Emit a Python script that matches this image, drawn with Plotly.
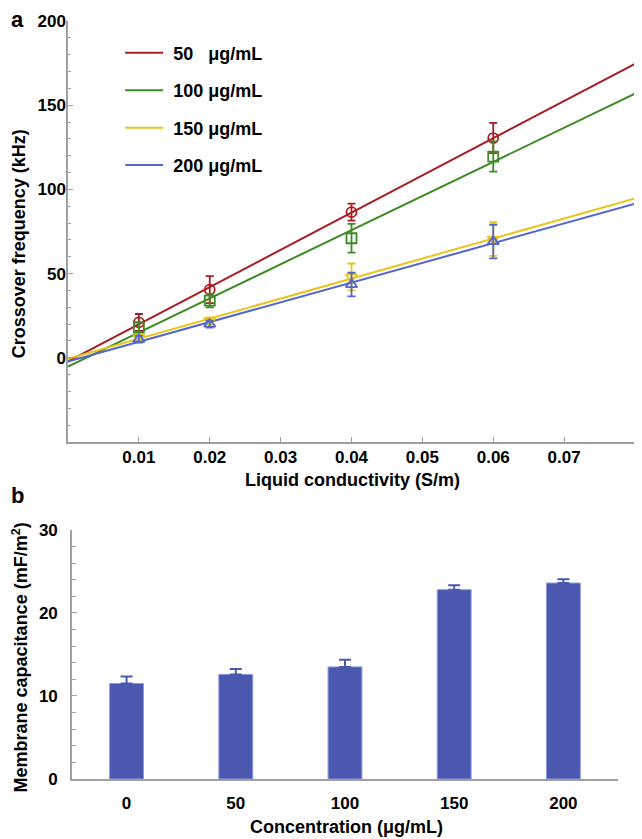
import numpy as np
import plotly.graph_objects as go

# ---- panel a: crossover frequency vs liquid conductivity ----
CONDUCTIVITY = [0.01, 0.02, 0.04, 0.06]
SERIES_NAMES = ["50\u00a0\u00a0 μg/mL", "100 μg/mL", "150 μg/mL", "200 μg/mL"]
FREQ_50 = [21, 40.5, 86.5, 130.5]
FREQ_100 = [18, 34, 71, 119.5]
FREQ_150 = [12, 22, 48, 70.5]
FREQ_200 = [11, 20, 43.5, 69]
ERR_50 = [5, 8, 5, 9]
ERR_100 = [3, 4, 8.5, 9]
ERR_150 = [2, 2, 8, 10]
ERR_200 = [2, 2, 7, 10]

# ---- panel b: membrane capacitance vs concentration ----
CONC_LABELS = ["0", "50", "100", "150", "200"]
CAPACITANCE = [11.5, 12.6, 13.5, 22.8, 23.6]
CAP_ERR = [0.85, 0.65, 0.85, 0.55, 0.45]

COLORS = ["#a61e24", "#3d8a24", "#e8c41c", "#5266cc"]
SYMBOLS = ["circle-open", "square-open", "triangle-down-open", "triangle-up-open"]
BAR_COLOR = "#4a58b0"
AXIS_GRAY = "#a0a0a0"
FONT = "Liberation Sans, Arial, sans-serif"

X_RANGE = [0, 0.08]

fig = go.Figure()

freqs = [FREQ_50, FREQ_100, FREQ_150, FREQ_200]
errs = [ERR_50, ERR_100, ERR_150, ERR_200]

# linear fit lines (legend entries show lines only)
for name, ys, color in zip(SERIES_NAMES, freqs, COLORS):
    slope, icpt = np.polyfit(CONDUCTIVITY, ys, 1)
    xs = np.array(X_RANGE)
    fig.add_trace(go.Scatter(
        x=xs, y=slope * xs + icpt,
        mode="lines",
        name=f"<b>\u00a0{name}</b>",
        legendgroup=name,
        line=dict(color=color, width=2),
        xaxis="x", yaxis="y",
    ))

# data points with error bars
for name, ys, es, color, sym in zip(SERIES_NAMES, freqs, errs, COLORS, SYMBOLS):
    fig.add_trace(go.Scatter(
        x=CONDUCTIVITY, y=ys,
        mode="markers",
        showlegend=False,
        legendgroup=name,
        marker=dict(symbol=sym, size=10, color=color, line=dict(color=color, width=1.8)),
        error_y=dict(type="data", array=es, color=color, thickness=1.8, width=4),
        xaxis="x", yaxis="y",
    ))

# bars
fig.add_trace(go.Bar(
    x=CONC_LABELS, y=CAPACITANCE,
    width=0.31,
    marker=dict(color=BAR_COLOR, line=dict(color="#8c98d8", width=1)),
    error_y=dict(type="data", symmetric=False, array=CAP_ERR,
                 arrayminus=[0] * len(CAP_ERR), color=BAR_COLOR, thickness=2, width=6),
    showlegend=False,
    xaxis="x2", yaxis="y2",
))

tick_font = dict(family=FONT, size=17, color="black")
bold = lambda s: f"<b>{s}</b>"

# the page body adds an 8px margin, so the figure is 8px smaller than the window
fig.update_layout(
    width=634, height=831,
    margin=dict(l=60, r=7, t=4, b=60),
    paper_bgcolor="white",
    plot_bgcolor="white",
    font=dict(family=FONT, size=17, color="black"),
    xaxis=dict(
        domain=[0, 1], anchor="y", range=X_RANGE,
        tickvals=[0.01, 0.02, 0.03, 0.04, 0.05, 0.06, 0.07],
        ticktext=[bold(f"{v:.2f}") for v in [0.01, 0.02, 0.03, 0.04, 0.05, 0.06, 0.07]],
        ticks="inside", ticklen=5, tickcolor=AXIS_GRAY,
        showline=True, linecolor=AXIS_GRAY, linewidth=1.5,
        showgrid=False, zeroline=False, tickfont=tick_font,
        ticklabelstandoff=-1,
    ),
    yaxis=dict(
        domain=[0.4446, 1.0], anchor="x", range=[-50, 200],
        tickvals=[0, 50, 100, 150, 200],
        ticktext=[bold(v) for v in [0, 50, 100, 150, 200]],
        ticks="inside", ticklen=5, tickcolor=AXIS_GRAY,
        minor=dict(dtick=10, ticks="inside", ticklen=3, tickcolor=AXIS_GRAY),
        showline=True, linecolor=AXIS_GRAY, linewidth=1.5,
        showgrid=False, zeroline=False, tickfont=tick_font,
        ticklabelstandoff=-3,
    ),
    xaxis2=dict(
        domain=[0.007, 0.970], anchor="y2", range=[-0.5, 4.5],
        type="category",
        tickvals=CONC_LABELS, ticktext=[bold(c) for c in CONC_LABELS],
        ticks="", showline=True, linecolor=AXIS_GRAY, linewidth=1.5,
        showgrid=False, zeroline=False, tickfont=tick_font,
        ticklabelstandoff=8,
    ),
    yaxis2=dict(
        domain=[0, 0.3286], anchor="x2", range=[0, 30],
        tickvals=[0, 10, 20, 30], ticktext=[bold(v) for v in [0, 10, 20, 30]],
        ticks="inside", ticklen=5, tickcolor=AXIS_GRAY,
        minor=dict(dtick=2, ticks="inside", ticklen=4, tickcolor=AXIS_GRAY),
        showline=True, linecolor=AXIS_GRAY, linewidth=1.5,
        showgrid=False, zeroline=False, tickfont=tick_font,
        ticklabelstandoff=9,
    ),
    legend=dict(
        x=0.092, y=0.982, xanchor="left", yanchor="top",
        bgcolor="rgba(0,0,0,0)", font=dict(family=FONT, size=18, color="black"),
        tracegroupgap=11, itemwidth=38,
    ),
    showlegend=True,
)

# axis titles and panel letters (positions given in reference pixels)
def px_x(p):
    return (p - 68) / 567

def px_y(p):
    return (779 - p) / 767

annots = [
    dict(text="<b>Crossover frequency (kHz)</b>", x=px_x(19), y=px_y(238), textangle=-90),
    dict(text="<b>Liquid conductivity (S/m)</b>", x=px_x(352), y=px_y(476), textangle=0),
    dict(text="<b>Membrane capacitance (mF/m<sup>2</sup>)</b>", x=px_x(20), y=px_y(656), textangle=-90),
    dict(text="<b>Concentration (μg/mL)</b>", x=px_x(346), y=px_y(828), textangle=0),
]
for a in annots:
    fig.add_annotation(xref="paper", yref="paper", showarrow=False,
                       xanchor="center", yanchor="middle",
                       font=dict(family=FONT, size=18, color="black"), **a)

for letter, yy in [("a", -4), ("b", 477)]:
    fig.add_annotation(text=f"<b>{letter}</b>", xref="paper", yref="paper",
                       x=px_x(9), y=px_y(yy), showarrow=False,
                       xanchor="left", yanchor="top",
                       font=dict(family=FONT, size=22, color="black"))

fig.write_html("out.html")
